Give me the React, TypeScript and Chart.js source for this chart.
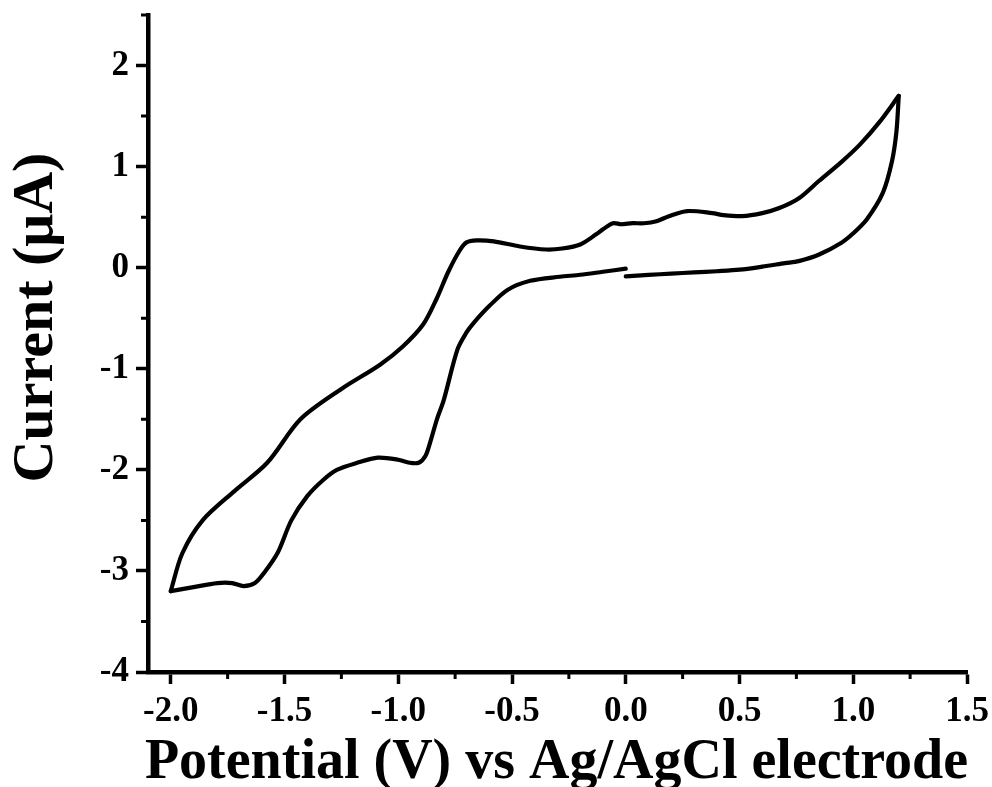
import React, { useEffect, useRef } from "react";
import { Chart, registerables } from "chart.js";

Chart.register(...registerables);

// Forward scan: 0 V -> +1.2 V (lower right branch)
const forwardV = [0, 0.1, 0.2, 0.3, 0.4, 0.5, 0.6, 0.7, 0.76, 0.85, 0.95, 1.0, 1.06, 1.13, 1.17, 1.19, 1.2];
const forwardI = [-0.085, -0.072, -0.058, -0.047, -0.035, -0.02, 0.01, 0.045, 0.065, 0.13, 0.25, 0.34, 0.48, 0.74, 1.05, 1.35, 1.7];

// Reverse scan: +1.2 V -> -2.0 V (upper branch)
const reverseV = [1.2, 1.115, 1.03, 0.95, 0.85, 0.763, 0.675, 0.6, 0.51, 0.43, 0.38, 0.27, 0.19, 0.135, 0.08, 0.03, -0.02, -0.056, -0.1, -0.13, -0.2, -0.28, -0.35, -0.465, -0.58, -0.655, -0.7, -0.73, -0.78, -0.83, -0.89, -0.98, -1.08, -1.25, -1.43, -1.576, -1.72, -1.86, -1.95, -2.0];
const reverseI = [1.7, 1.44, 1.22, 1.05, 0.86, 0.69, 0.59, 0.54, 0.51, 0.52, 0.54, 0.56, 0.51, 0.46, 0.44, 0.44, 0.43, 0.44, 0.38, 0.33, 0.23, 0.19, 0.18, 0.21, 0.26, 0.27, 0.25, 0.17, -0.04, -0.3, -0.56, -0.78, -0.96, -1.2, -1.5, -1.93, -2.21, -2.5, -2.83, -3.2];

// Return scan: -2.0 V -> 0 V (lower left branch)
const returnV = [-2.0, -1.9, -1.795, -1.73, -1.68, -1.63, -1.59, -1.53, -1.47, -1.4, -1.33, -1.27, -1.18, -1.09, -1.0, -0.95, -0.91, -0.88, -0.86, -0.83, -0.8, -0.74, -0.7, -0.67, -0.6, -0.52, -0.42, -0.29, -0.2, -0.1, 0];
const returnI = [-3.2, -3.16, -3.12, -3.12, -3.15, -3.12, -3.02, -2.82, -2.5, -2.26, -2.1, -2.0, -1.93, -1.88, -1.9, -1.93, -1.93, -1.86, -1.73, -1.5, -1.31, -0.81, -0.64, -0.55, -0.38, -0.22, -0.13, -0.09, -0.07, -0.04, -0.01];

const xMajorTicks = [-2.0, -1.5, -1.0, -0.5, 0.0, 0.5, 1.0, 1.5];
const xMinorTicks = [-1.75, -1.25, -0.75, -0.25, 0.25, 0.75, 1.25];
const yMajorTicks = [-4, -3, -2, -1, 0, 1, 2];
const yMinorTicks = [-3.5, -2.5, -1.5, -0.5, 0.5, 1.5, 2.5];

const xTitle = "Potential (V) vs Ag/AgCl electrode";
const yTitle = "Current (\u03BCA)";

const FONT = '"Liberation Serif", "Times New Roman", serif';

const toPoints = (xs: number[], ys: number[]) => xs.map((x, i) => ({ x, y: ys[i] }));

const axisDecor = {
  id: "axisDecor",
  afterDraw(chart: any) {
    const ctx = chart.ctx as CanvasRenderingContext2D;
    const xs = chart.scales.x;
    const ys = chart.scales.y;
    const area = chart.chartArea;
    ctx.save();
    ctx.strokeStyle = "#000";
    ctx.lineWidth = 3;
    ctx.beginPath();
    xMinorTicks.forEach((v) => {
      const px = xs.getPixelForValue(v);
      ctx.moveTo(px, area.bottom);
      ctx.lineTo(px, area.bottom + 7);
    });
    yMinorTicks.forEach((v) => {
      const py = ys.getPixelForValue(v);
      ctx.moveTo(area.left, py);
      ctx.lineTo(area.left - 7, py);
    });
    ctx.stroke();

    ctx.fillStyle = "#000";
    ctx.textAlign = "center";
    ctx.textBaseline = "alphabetic";
    ctx.font = `bold 56px ${FONT}`;
    ctx.fillText(xTitle, (area.left + area.right) / 2 - 1, 778);

    ctx.translate(52, 317.5);
    ctx.rotate(-Math.PI / 2);
    ctx.font = `bold 58px ${FONT}`;
    ctx.fillText(yTitle, 0, 0);
    ctx.restore();
  },
};

export default function App() {
  const canvasRef = useRef<HTMLCanvasElement | null>(null);

  useEffect(() => {
    if (!canvasRef.current) return;
    const lineStyle = {
      borderColor: "#000",
      borderWidth: 4.2,
      pointRadius: 0,
      showLine: true,
      tension: 0.3,
      borderCapStyle: "round" as const,
      borderJoinStyle: "round" as const,
      fill: false,
    };
    const chart = new Chart(canvasRef.current, {
      type: "scatter",
      data: {
        datasets: [
          { label: "forward", data: toPoints(forwardV, forwardI), ...lineStyle },
          { label: "reverse", data: toPoints(reverseV, reverseI), ...lineStyle },
          { label: "return", data: toPoints(returnV, returnI), ...lineStyle },
        ],
      },
      options: {
        responsive: false,
        animation: false,
        layout: { padding: { top: 15, right: 25, left: 0, bottom: 0 } },
        plugins: {
          legend: { display: false },
          tooltip: { enabled: false },
        },
        scales: {
          x: {
            type: "linear",
            min: -2.1,
            max: 1.5,
            afterBuildTicks: (s: any) => {
              s.ticks = xMajorTicks.map((v) => ({ value: v }));
            },
            afterFit: (s: any) => {
              s.height = 115;
              s.paddingLeft = 0;
              s.paddingRight = 0;
            },
            ticks: {
              callback: (v: any) => Number(v).toFixed(1),
              font: { family: FONT, size: 35, weight: "bold" },
              color: "#000",
              padding: 7,
              maxRotation: 0,
              autoSkip: false,
            },
            grid: {
              drawOnChartArea: false,
              drawTicks: true,
              tickLength: 12,
              tickWidth: 3.5,
              tickColor: "#000",
            },
            border: { display: true, color: "#000", width: 4.5 },
          },
          y: {
            type: "linear",
            min: -4,
            max: 2.5,
            afterBuildTicks: (s: any) => {
              s.ticks = yMajorTicks.map((v) => ({ value: v }));
            },
            afterFit: (s: any) => {
              s.width = 148;
              s.paddingTop = 0;
              s.paddingBottom = 0;
            },
            ticks: {
              callback: (v: any) => String(Number(v)),
              font: { family: FONT, size: 35, weight: "bold" },
              color: "#000",
              padding: 7,
              autoSkip: false,
            },
            grid: {
              drawOnChartArea: false,
              drawTicks: true,
              tickLength: 12,
              tickWidth: 3.5,
              tickColor: "#000",
            },
            border: { display: true, color: "#000", width: 4.5 },
          },
        },
      },
      plugins: [axisDecor],
    });
    return () => chart.destroy();
  }, []);

  return (
    <div style={{ position: "absolute", left: 0, top: 0, width: 992, height: 787, background: "#fff" }}>
      <canvas ref={canvasRef} width={992} height={787} style={{ display: "block" }} />
    </div>
  );
}
